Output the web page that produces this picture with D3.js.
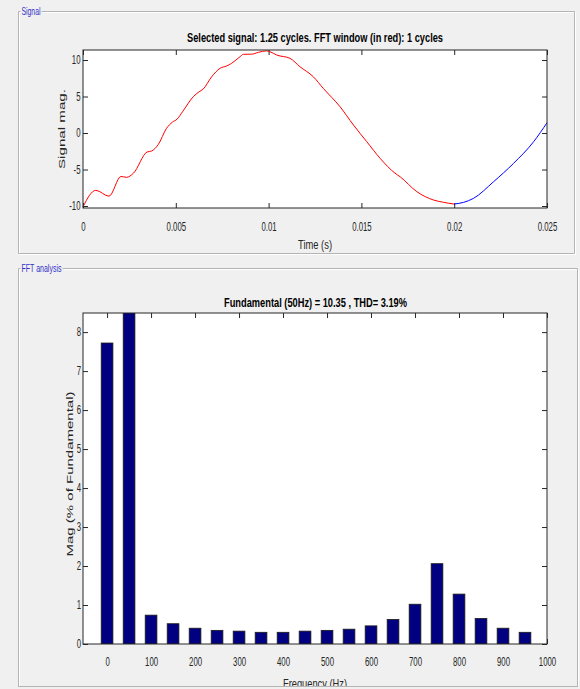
<!DOCTYPE html>
<html>
<head>
<meta charset="utf-8">
<script src="https://cdn.jsdelivr.net/npm/d3@7"></script>
<style>
  body { margin: 0; background: #f0f0f0; }
  svg { display: block; font-family: "Liberation Sans", Arial, sans-serif; }
</style>
</head>
<body>
<div id="container"></div>
<script>
/* DATA */
// signal inside the FFT window (red), time in ms
const windowTime = [0, 0.69, 1.40, 2.05, 2.34, 2.72, 3.45, 3.69, 4.05, 4.50, 4.82, 5.07, 5.36, 5.94, 6.26, 6.47, 6.93, 7.38, 7.74, 8.01, 8.46, 8.64, 9.09, 9.45, 9.89, 10.07, 10.44, 11.15, 11.69, 12.41, 12.95, 13.85, 14.57, 15.29, 16.01, 16.81, 17.09, 17.99, 18.89, 19.42, 20.0];
const windowValue = [-10.1, -7.85, -8.65, -5.95, -6.07, -5.5, -2.6, -2.47, -1.6, 0.64, 1.5, 1.9, 2.9, 4.97, 5.66, 6.0, 7.7, 8.86, 9.18, 9.55, 10.45, 10.78, 10.8, 11.05, 11.25, 11.14, 10.68, 10.23, 9.08, 7.7, 6.1, 3.6, 1.1, -1.19, -3.47, -5.5, -6.0, -8.04, -9.18, -9.49, -9.73];
// rest of the selected signal (blue)
const restTime = [20.0, 20.5, 21.04, 22.12, 23.20, 24.28, 25.0];
const restValue = [-9.73, -9.5, -8.95, -6.67, -4.15, -1.19, 1.41];

// harmonic spectrum, % of fundamental
const harmFreq = [0, 50, 100, 150, 200, 250, 300, 350, 400, 450, 500, 550, 600, 650, 700, 750, 800, 850, 900, 950];
const harmMag = [7.72, 100, 0.74, 0.52, 0.405, 0.35, 0.33, 0.30, 0.30, 0.33, 0.35, 0.38, 0.465, 0.63, 1.02, 2.06, 1.28, 0.655, 0.405, 0.30];

const timeTicks = [0, 0.005, 0.01, 0.015, 0.02, 0.025];
const sigTicks = [-10, -5, 0, 5, 10];
const freqTicks = [0, 100, 200, 300, 400, 500, 600, 700, 800, 900, 1000];
const magTicks = [0, 1, 2, 3, 4, 5, 6, 7, 8];

/* CONSTANTS */
const width = 580, height = 689;
const sx = 0.65;          // horizontal squeeze of the screenshot text
const axisColor = "#262626";
const tickLen = 5;
const barWidthHz = 26.6;

const svg = d3.select("#container").append("svg")
  .attr("width", width).attr("height", height);

// squeezed text helper
function label(g, txt, x, y, opts = {}) {
  const k = opts.rotate ? 0.72 : sx;
  const t = g.append("text")
    .attr("transform", `translate(${x},${y}) scale(${k},1)` + (opts.rotate ? " rotate(-90)" : ""))
    .attr("text-anchor", opts.anchor || "middle")
    .style("font-size", (opts.size || 12) + "px")
    .style("font-weight", opts.bold ? "bold" : "normal")
    .attr("fill", opts.color || axisColor)
    .text(txt);
  if (opts.len) {
    t.attr("textLength", opts.rotate ? opts.len : opts.len / k).attr("lengthAdjust", "spacingAndGlyphs");
  }
  return t;
}

// group box frames
function frame(x0, y0, x1, y1, title, titleW) {
  const p = d3.path();
  p.moveTo(x0 + 4 + titleW, y0); p.lineTo(x1, y0); p.lineTo(x1, y1); p.lineTo(x0, y1); p.lineTo(x0, y0); p.lineTo(x0 + 2, y0);
  svg.append("path").attr("d", p.toString()).attr("fill", "none").attr("stroke", "#fff").attr("transform", "translate(1,1)");
  svg.append("path").attr("d", p.toString()).attr("fill", "none").attr("stroke", "#b4b4b4");
  label(svg, title, x0 + 3, y0 + 3, { anchor: "start", size: 10, color: "#3030c8", len: titleW });
}
frame(18.5, 11.5, 574.5, 253.5, "Signal", 19);
frame(18.5, 268.5, 577.5, 700, "FFT analysis", 40);

// axis helper: box, inward ticks on all sides
function axes(g, x, y, xt, yt, xfmt, yfmt, x0, x1, y0, y1) {
  g.append("rect").attr("x", x0).attr("y", y0).attr("width", x1 - x0).attr("height", y1 - y0).attr("fill", "#fff");
  const parts = [
    [d3.axisBottom(x).tickValues(xt).tickFormat(xfmt), `translate(0,${y1})`],
    [d3.axisTop(x).tickValues(xt).tickFormat(""), `translate(0,${y0})`],
    [d3.axisLeft(y).tickValues(yt).tickFormat(yfmt), `translate(${x0},0)`],
    [d3.axisRight(y).tickValues(yt).tickFormat(""), `translate(${x1},0)`]
  ];
  parts.forEach(([ax, tr]) => {
    const a = g.append("g").attr("transform", tr)
      .call(ax.tickSizeInner(-tickLen).tickSizeOuter(0).tickPadding(0));
    a.select(".domain").remove();
    a.selectAll("line").attr("stroke", axisColor);
    a.selectAll("text").attr("fill", axisColor).style("font-size", "12px").style("font-family", null);
  });
}
function squeezeTicks(g) {
  g.selectAll(".tick text").each(function () {
    const t = d3.select(this);
    const tx = +t.attr("x") || 0, ty = +t.attr("y") || 0;
    t.attr("transform", `translate(${tx},${ty}) scale(${sx},1)`).attr("x", 0).attr("y", 0);
  });
}

/* SIGNAL PANEL */
const sigX = d3.scaleLinear().domain([0, 0.025]).range([83, 547]);
const sigY = d3.scaleLinear().domain([-10.27, 11.37]).range([208, 50]);
const gs = svg.append("g");
axes(gs, sigX, sigY, timeTicks, sigTicks, d => d === 0 ? "0" : d3.format("")(+d.toFixed(3)), d => d, 83, 547, 50, 208);
gs.selectAll(".tick text").filter(function () { return this.getAttribute("dy") === "0.71em"; }).attr("y", 14);
gs.selectAll(".tick text").filter(function () { return this.getAttribute("dy") === "0.32em"; }).attr("x", -2.5);
squeezeTicks(gs);

const sigLine = d3.line().x(d => sigX(d[0] / 1000)).y(d => sigY(d[1])).curve(d3.curveMonotoneX);
gs.append("path").datum(d3.zip(restTime, restValue)).attr("d", sigLine)
  .attr("fill", "none").attr("stroke", "#0000ff").attr("stroke-width", 1);
gs.append("path").datum(d3.zip(windowTime, windowValue)).attr("d", sigLine)
  .attr("fill", "none").attr("stroke", "#ff0000").attr("stroke-width", 1);
gs.append("rect").attr("x", 83).attr("y", 50).attr("width", 464).attr("height", 158)
  .attr("fill", "none").attr("stroke", axisColor);

label(svg, "Selected signal: 1.25 cycles. FFT window (in red): 1 cycles", 315, 42, { size: 13, bold: true, color: "#000", len: 256 });
label(svg, "Time (s)", 315, 249, { size: 13, len: 34 });
label(svg, "Signal mag.", 65, 129, { size: 12, rotate: true, len: 80 });

/* FFT PANEL */
const fX = d3.scaleLinear().domain([-54.7, 1000]).range([83, 547]);
const fY = d3.scaleLinear().domain([0, 8.49]).range([644, 313]);
const gf = svg.append("g");
axes(gf, fX, fY, freqTicks, magTicks, d => d, d => d, 83, 547, 313, 644);
gf.selectAll(".tick text").filter(function () { return this.getAttribute("dy") === "0.71em"; }).attr("y", 13);
gf.selectAll(".tick text").filter(function () { return this.getAttribute("dy") === "0.32em"; }).attr("x", -2);
squeezeTicks(gf);

svg.append("clipPath").attr("id", "fftClip").append("rect")
  .attr("x", 83).attr("y", 313).attr("width", 464).attr("height", 331);
gf.append("g").attr("clip-path", "url(#fftClip)")
  .selectAll("rect").data(d3.zip(harmFreq, harmMag)).join("rect")
  .attr("x", d => fX(d[0] - barWidthHz / 2))
  .attr("width", d => fX(d[0] + barWidthHz / 2) - fX(d[0] - barWidthHz / 2))
  .attr("y", d => fY(d[1]))
  .attr("height", d => fY(0) - fY(d[1]))
  .attr("fill", "#000080").attr("stroke", "#1a1a1a").attr("stroke-width", 0.8);
gf.append("rect").attr("x", 83).attr("y", 313).attr("width", 464).attr("height", 331)
  .attr("fill", "none").attr("stroke", axisColor);

label(svg, "Fundamental (50Hz) = 10.35 , THD= 3.19%", 315.5, 307, { size: 13, bold: true, color: "#000", len: 183 });
label(svg, "Mag (% of Fundamental)", 73, 474, { size: 12, rotate: true, len: 165 });
label(svg, "Frequency (Hz)", 315, 688, { size: 13, len: 64 });

// bottom edge of the window cuts the last label
svg.append("rect").attr("x", 0).attr("y", 686).attr("width", width).attr("height", 3).attr("fill", "#f0f0f0");
svg.append("line").attr("x1", 18).attr("x2", 578).attr("y1", 686.5).attr("y2", 686.5).attr("stroke", "#b4b4b4");
</script>
</body>
</html>
